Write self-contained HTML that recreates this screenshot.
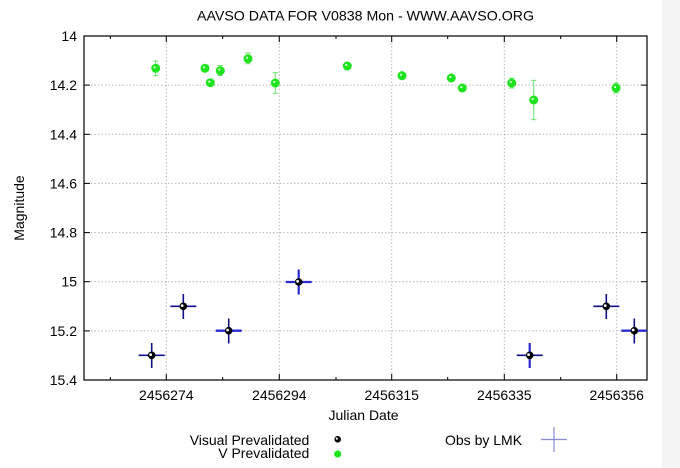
<!DOCTYPE html>
<html><head><meta charset="utf-8"><style>
html,body{margin:0;padding:0;background:#fff;}
svg{display:block;font-family:"Liberation Sans",Arial,sans-serif;}
</style></head><body>
<svg width="680" height="468" viewBox="0 0 680 468" xmlns="http://www.w3.org/2000/svg">
<rect x="0" y="0" width="680" height="468" fill="#fff"/>
<rect x="662" y="0" width="18" height="468" fill="#f4f4f4"/>
<text x="365.5" y="20.5" font-size="14" text-anchor="middle" textLength="337" lengthAdjust="spacingAndGlyphs" fill="#000">AAVSO DATA FOR V0838 Mon - WWW.AAVSO.ORG</text>
<!-- grid -->
<g stroke="#b8b8b8" stroke-width="1" stroke-dasharray="1.5,2" fill="none">
<line x1="84" y1="85.1" x2="647" y2="85.1"/>
<line x1="84" y1="134.3" x2="647" y2="134.3"/>
<line x1="84" y1="183.4" x2="647" y2="183.4"/>
<line x1="84" y1="232.6" x2="647" y2="232.6"/>
<line x1="84" y1="281.7" x2="647" y2="281.7"/>
<line x1="84" y1="330.9" x2="647" y2="330.9"/>
<line x1="166.3" y1="36" x2="166.3" y2="380"/>
<line x1="279.3" y1="36" x2="279.3" y2="380"/>
<line x1="391.7" y1="36" x2="391.7" y2="380"/>
<line x1="504.3" y1="36" x2="504.3" y2="380"/>
<line x1="616.7" y1="36" x2="616.7" y2="380"/>
</g>
<!-- ticks -->
<g stroke="#000" stroke-width="1">
<line x1="84" y1="85.1" x2="90" y2="85.1"/><line x1="647" y1="85.1" x2="641" y2="85.1"/>
<line x1="84" y1="134.3" x2="90" y2="134.3"/><line x1="647" y1="134.3" x2="641" y2="134.3"/>
<line x1="84" y1="183.4" x2="90" y2="183.4"/><line x1="647" y1="183.4" x2="641" y2="183.4"/>
<line x1="84" y1="232.6" x2="90" y2="232.6"/><line x1="647" y1="232.6" x2="641" y2="232.6"/>
<line x1="84" y1="281.7" x2="90" y2="281.7"/><line x1="647" y1="281.7" x2="641" y2="281.7"/>
<line x1="84" y1="330.9" x2="90" y2="330.9"/><line x1="647" y1="330.9" x2="641" y2="330.9"/>
<line x1="166.3" y1="380" x2="166.3" y2="374"/><line x1="166.3" y1="36" x2="166.3" y2="42"/>
<line x1="279.3" y1="380" x2="279.3" y2="374"/><line x1="279.3" y1="36" x2="279.3" y2="42"/>
<line x1="391.7" y1="380" x2="391.7" y2="374"/><line x1="391.7" y1="36" x2="391.7" y2="42"/>
<line x1="504.3" y1="380" x2="504.3" y2="374"/><line x1="504.3" y1="36" x2="504.3" y2="42"/>
<line x1="616.7" y1="380" x2="616.7" y2="374"/><line x1="616.7" y1="36" x2="616.7" y2="42"/>
<line x1="110.3" y1="380" x2="110.3" y2="377"/><line x1="110.3" y1="36" x2="110.3" y2="39"/>
<line x1="222.7" y1="380" x2="222.7" y2="377"/><line x1="222.7" y1="36" x2="222.7" y2="39"/>
<line x1="336" y1="380" x2="336" y2="377"/><line x1="336" y1="36" x2="336" y2="39"/>
<line x1="447.7" y1="380" x2="447.7" y2="377"/><line x1="447.7" y1="36" x2="447.7" y2="39"/>
<line x1="560.7" y1="380" x2="560.7" y2="377"/><line x1="560.7" y1="36" x2="560.7" y2="39"/>
</g>
<rect x="84" y="36" width="563" height="344" fill="none" stroke="#000" stroke-width="1.2"/>
<!-- y labels -->
<g font-size="14" text-anchor="end" fill="#000">
<text x="77" y="41">14</text>
<text x="77" y="90">14.2</text>
<text x="77" y="139.3">14.4</text>
<text x="77" y="188.4">14.6</text>
<text x="77" y="237.6">14.8</text>
<text x="77" y="286.7">15</text>
<text x="77" y="335.9">15.2</text>
<text x="77" y="385">15.4</text>
</g>
<!-- x labels -->
<g font-size="14" text-anchor="middle" fill="#000">
<text x="166.3" y="400">2456274</text>
<text x="279.3" y="400">2456294</text>
<text x="391.7" y="400">2456315</text>
<text x="504.3" y="400">2456335</text>
<text x="616.7" y="400">2456356</text>
</g>
<text x="363.5" y="420" font-size="14" text-anchor="middle" fill="#000">Julian Date</text>
<text x="0" y="0" font-size="14" text-anchor="middle" fill="#000" transform="translate(24,208) rotate(-90)">Magnitude</text>
<!-- green error bars -->
<g stroke="#6ee06e" stroke-width="1" fill="none">
<line x1="155.7" y1="61" x2="155.7" y2="75.7"/><line x1="153" y1="61" x2="158.4" y2="61"/><line x1="153" y1="75.7" x2="158.4" y2="75.7"/>
<line x1="220.3" y1="65.5" x2="220.3" y2="75.5"/><line x1="217.6" y1="65.5" x2="223" y2="65.5"/><line x1="217.6" y1="75.5" x2="223" y2="75.5"/>
<line x1="248" y1="53" x2="248" y2="63.7"/><line x1="245.3" y1="53" x2="250.7" y2="53"/><line x1="245.3" y1="63.7" x2="250.7" y2="63.7"/>
<line x1="275.3" y1="72.7" x2="275.3" y2="93.3"/><line x1="272.6" y1="72.7" x2="278" y2="72.7"/><line x1="272.6" y1="93.3" x2="278" y2="93.3"/>
<line x1="347.3" y1="61.5" x2="347.3" y2="70.5"/>
<line x1="402" y1="70.5" x2="402" y2="80.5"/>
<line x1="511.7" y1="78" x2="511.7" y2="88"/><line x1="509" y1="78" x2="514.4" y2="78"/><line x1="509" y1="88" x2="514.4" y2="88"/>
<line x1="533.7" y1="80.3" x2="533.7" y2="119.7"/><line x1="531" y1="80.3" x2="536.4" y2="80.3"/><line x1="531" y1="119.7" x2="536.4" y2="119.7"/>
<line x1="616" y1="83" x2="616" y2="93"/><line x1="613.3" y1="83" x2="618.7" y2="83"/><line x1="613.3" y1="93" x2="618.7" y2="93"/>
</g>
<!-- green points -->
<g fill="#1ee41e">
<circle cx="155.7" cy="68.3" r="4.5"/>
<circle cx="205" cy="68.3" r="4.5"/>
<circle cx="210.3" cy="82.7" r="4.5"/>
<circle cx="220.3" cy="70.7" r="4.5"/>
<circle cx="248" cy="58.7" r="4.5"/>
<circle cx="275.3" cy="83" r="4.5"/>
<circle cx="347.3" cy="66" r="4.5"/>
<circle cx="402" cy="75.7" r="4.5"/>
<circle cx="451.3" cy="78" r="4.5"/>
<circle cx="462.3" cy="88" r="4.5"/>
<circle cx="511.7" cy="83" r="4.5"/>
<circle cx="533.7" cy="100" r="4.5"/>
<circle cx="616" cy="88" r="4.5"/>
<circle cx="337.7" cy="454" r="3.6"/>
</g>
<g fill="#d8ffd8">
<circle cx="154.7" cy="67.3" r="1.1"/>
<circle cx="204" cy="67.3" r="1.1"/>
<circle cx="209.3" cy="81.7" r="1.1"/>
<circle cx="219.3" cy="69.7" r="1.1"/>
<circle cx="247" cy="57.7" r="1.1"/>
<circle cx="274.3" cy="82" r="1.1"/>
<circle cx="346.3" cy="65" r="1.1"/>
<circle cx="401" cy="74.7" r="1.1"/>
<circle cx="450.3" cy="77" r="1.1"/>
<circle cx="461.3" cy="87" r="1.1"/>
<circle cx="510.7" cy="82" r="1.1"/>
<circle cx="532.7" cy="99" r="1.1"/>
<circle cx="615" cy="87" r="1.1"/>
</g>
<!-- LMK crosses -->
<g stroke="#10108a" stroke-width="1.6" fill="none">
<line x1="138.7" y1="355.3" x2="164.7" y2="355.3"/><line x1="151.7" y1="343" x2="151.7" y2="368"/>
<line x1="170.3" y1="306.3" x2="196.3" y2="306.3"/><line x1="183.3" y1="294" x2="183.3" y2="319"/>
<line x1="215.7" y1="330.7" x2="241.7" y2="330.7" stroke="#2a2ad0" stroke-width="2.4"/><line x1="228.7" y1="318.5" x2="228.7" y2="343.5"/>
<line x1="285.7" y1="282" x2="311.7" y2="282" stroke="#2a2ad0" stroke-width="2.2"/><line x1="298.7" y1="269.5" x2="298.7" y2="294.5" stroke="#2a2ad0" stroke-width="2.2"/>
<line x1="516.7" y1="355.3" x2="542.7" y2="355.3"/><line x1="529.7" y1="343" x2="529.7" y2="368" stroke="#2a2ad0" stroke-width="2.2"/>
<line x1="593.3" y1="306.3" x2="619.3" y2="306.3"/><line x1="606.3" y1="294" x2="606.3" y2="319"/>
<line x1="621.3" y1="330.7" x2="647" y2="330.7" stroke="#2a2ad0" stroke-width="2.4"/><line x1="634.3" y1="318.5" x2="634.3" y2="343.5"/>
</g>
<!-- visual points -->
<g fill="#000">
<circle cx="151.7" cy="355.3" r="3.8"/>
<circle cx="183.3" cy="306.3" r="3.8"/>
<circle cx="228.7" cy="330.7" r="3.8"/>
<circle cx="298.7" cy="282" r="3.8"/>
<circle cx="529.7" cy="355.3" r="3.8"/>
<circle cx="606.3" cy="306.3" r="3.8"/>
<circle cx="634.3" cy="330.7" r="3.8"/>
<circle cx="337.7" cy="439.3" r="3.3"/>
</g>
<g fill="#fff">
<circle cx="150.6" cy="354.6" r="1.4"/>
<circle cx="182.2" cy="305.6" r="1.4"/>
<circle cx="227.6" cy="330" r="1.4"/>
<circle cx="297.6" cy="281.3" r="1.4"/>
<circle cx="528.6" cy="354.6" r="1.4"/>
<circle cx="605.2" cy="305.6" r="1.4"/>
<circle cx="633.2" cy="330" r="1.4"/>
<circle cx="336.8" cy="438.6" r="1.1"/>
</g>
<!-- legend -->
<g font-size="14" fill="#000">
<text x="309.3" y="445" text-anchor="end">Visual Prevalidated</text>
<text x="309.3" y="458" text-anchor="end">V Prevalidated</text>
<text x="445" y="445">Obs by LMK</text>
</g>
<g stroke="#8a8ad8" stroke-width="1.2">
<line x1="541" y1="439.5" x2="567" y2="439.5"/>
<line x1="554" y1="427" x2="554" y2="452"/>
</g>
</svg>
</body></html>
